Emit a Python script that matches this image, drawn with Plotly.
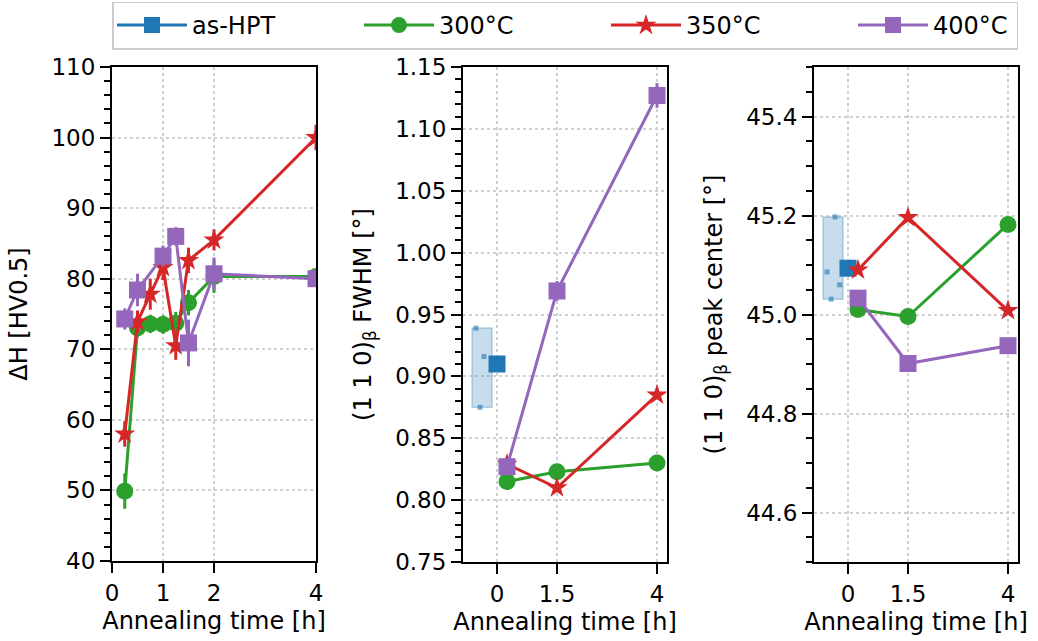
import numpy as np
import plotly.graph_objects as go

# ---- hardness increase ΔH vs annealing time ----
t_hv = [0.25, 0.5, 0.75, 1.0, 1.25, 1.5, 2.0, 4.0]
dh_300 = [49.9, 73.0, 73.6, 73.5, 73.7, 76.6, 80.3, 80.3]
dh_300_err = [2.5, 1.3, 1.3, 1.3, 1.6, 1.8, 2.3, 1.0]
dh_350 = [58.0, 73.9, 77.8, 81.6, 70.5, 82.6, 85.5, 100.0]
dh_350_err = [1.8, 1.6, 2.2, 1.8, 2.0, 1.8, 1.5, 1.8]
t_hv_400 = [0.25, 0.5, 1.0, 1.25, 1.5, 2.0, 4.0]
dh_400 = [74.3, 78.4, 83.2, 86.0, 70.9, 80.7, 80.0]
dh_400_err = [1.5, 2.3, 1.5, 1.3, 3.3, 2.3, 1.0]

# ---- XRD (1 1 0) beta reflection ----
t_xrd = [0.25, 1.5, 4.0]
fwhm_300 = [0.815, 0.823, 0.830]
fwhm_350 = [0.829, 0.810, 0.885]
fwhm_400 = [0.827, 0.969, 1.127]
fwhm_400_err = [0.004, 0.008, 0.010]
fwhm_hpt = [0.939, 0.916, 0.875]

center_300 = [45.010, 44.996, 45.182]
center_350 = [45.090, 45.196, 45.008]
center_400 = [45.033, 44.901, 44.937]
center_hpt = [45.197, 45.086, 45.060, 45.031]

# ---- styling / placement ----
C_HPT, C_300, C_350, C_400 = "#1f77b4", "#2ca02c", "#d62728", "#9467bd"
FONT = "DejaVu Sans"
W, H = 1038, 641
HPT_BOX_CENTER, HPT_BOX_WIDTH = -0.375, 0.5
jitter_fwhm = [-0.15, 0.05, -0.05]
jitter_center = [0.055, -0.15, 0.165, -0.045]

fig = go.Figure()

def px_dom(a, b, total):
    return [a / total, b / total]

def ydom(top, bottom):
    return [1 - bottom / H, 1 - top / H]

def line_trace(x, y, color, symbol, name, xa, ya, err=None, show=False, size=17,
               legendwidth=None):
    return go.Scatter(
        x=x, y=y, mode="lines+markers", name=name, showlegend=show,
        legendgroup=name, xaxis=xa, yaxis=ya, legendwidth=legendwidth,
        line=dict(color=color, width=3),
        marker=dict(color=color, symbol=symbol, size=size, line=dict(width=0)),
        error_y=(dict(type="data", array=err, color=color, thickness=3, width=0)
                 if err is not None else None),
    )

# panel 1: hardness
fig.add_trace(line_trace(t_hv, dh_300, C_300, "circle", "300°C", "x", "y", dh_300_err))
fig.add_trace(line_trace(t_hv, dh_350, C_350, "star", "350°C", "x", "y", dh_350_err, size=16))
fig.add_trace(line_trace(t_hv_400, dh_400, C_400, "square", "400°C", "x", "y", dh_400_err))

# as-HPT reference distributions + mean
def hpt_traces(samples, jitter, xa, ya, show):
    lo, hi = min(samples), max(samples)
    x0 = HPT_BOX_CENTER - HPT_BOX_WIDTH / 2
    x1 = HPT_BOX_CENTER + HPT_BOX_WIDTH / 2
    box = go.Scatter(
        x=[x0, x1, x1, x0, x0], y=[lo, lo, hi, hi, lo], mode="lines",
        fill="toself", fillcolor="rgba(31,119,180,0.25)",
        line=dict(color="rgba(31,119,180,0.3)", width=1.5),
        showlegend=False, hoverinfo="skip", xaxis=xa, yaxis=ya,
    )
    pts = go.Scatter(
        x=[HPT_BOX_CENTER + j for j in jitter], y=samples, mode="markers",
        marker=dict(color=C_HPT, symbol="square", size=5, opacity=0.6, line=dict(width=0)),
        showlegend=False, xaxis=xa, yaxis=ya,
    )
    mean = line_trace([0.0], [float(np.mean(samples))], C_HPT, "square", "as-HPT",
                      xa, ya, show=show, legendwidth=162)
    return [box, pts, mean]

for tr in hpt_traces(fwhm_hpt, jitter_fwhm, "x2", "y2", True):
    fig.add_trace(tr)
fig.add_trace(line_trace(t_xrd, fwhm_300, C_300, "circle", "300°C", "x2", "y2",
                         show=True, legendwidth=162))
fig.add_trace(line_trace(t_xrd, fwhm_350, C_350, "star", "350°C", "x2", "y2",
                         show=True, size=16, legendwidth=162))
fig.add_trace(line_trace(t_xrd, fwhm_400, C_400, "square", "400°C", "x2", "y2",
                         fwhm_400_err, show=True, legendwidth=78))

for tr in hpt_traces(center_hpt, jitter_center, "x3", "y3", False):
    fig.add_trace(tr)
fig.add_trace(line_trace(t_xrd, center_300, C_300, "circle", "300°C", "x3", "y3"))
fig.add_trace(line_trace(t_xrd, center_350, C_350, "star", "350°C", "x3", "y3", size=16))
fig.add_trace(line_trace(t_xrd, center_400, C_400, "square", "400°C", "x3", "y3"))

tick_font = dict(family=FONT, size=23, color="black")
title_font = dict(family=FONT, size=24, color="black")

def xaxis(dom, rng, tickvals, ticktext, anchor):
    return dict(
        domain=dom, range=rng, anchor=anchor, tickmode="array", automargin=False,
        tickvals=tickvals, ticktext=ticktext, ticks="outside", ticklen=10,
        tickwidth=2, tickcolor="black", showline=True, linewidth=2,
        linecolor="black", mirror=True, showgrid=True, gridcolor="#cfcfcf",
        gridwidth=1.5, griddash="dot", zeroline=False, tickfont=tick_font,
        title=dict(text="Annealing time [h]", font=title_font, standoff=8),
    )

def yaxis(dom, rng, dtick, tick0, minor_dtick, fmt, title, anchor, standoff):
    return dict(
        domain=dom, range=rng, anchor=anchor, dtick=dtick, tick0=tick0,
        automargin=False,
        tickformat=fmt, ticks="outside", ticklen=10, tickwidth=2,
        tickcolor="black", showline=True, linewidth=2, linecolor="black",
        mirror=True, showgrid=True, gridcolor="#cfcfcf", gridwidth=1.5,
        griddash="dot", zeroline=False, tickfont=tick_font,
        minor=dict(dtick=minor_dtick, tick0=tick0, ticks="outside", ticklen=6,
                   tickwidth=1.5, tickcolor="black", showgrid=False),
        title=dict(text=title, font=title_font, standoff=standoff),
    )

fig.update_layout(
    width=W, height=H,
    margin=dict(l=0, r=0, t=0, b=0, autoexpand=False),
    paper_bgcolor="white", plot_bgcolor="white",
    font=dict(family=FONT, size=23, color="black"),
    xaxis=xaxis(px_dom(112, 316, W), [0, 4], [0, 1, 2, 4], ["0", "1", "2", "4"], "y"),
    yaxis=yaxis(ydom(67, 561), [40, 110], 10, 40, 2, "d", "ΔH [HV0.5]", "x", 17),
    xaxis2=xaxis(px_dom(463, 667, W), [-0.85, 4.25], [0, 1.5, 4], ["0", "1.5", "4"], "y2"),
    yaxis2=yaxis(ydom(67, 562), [0.75, 1.15], 0.05, 0.75, 0.01, ".2f",
                 "(1 1 0)<sub>β</sub> FWHM [°]", "x2", 17),
    xaxis3=xaxis(px_dom(814, 1018, W), [-0.85, 4.25], [0, 1.5, 4], ["0", "1.5", "4"], "y3"),
    yaxis3=yaxis(ydom(67, 562), [44.5, 45.5], 0.2, 44.6, 0.05, ".1f",
                 "(1 1 0)<sub>β</sub> peak center [°]", "x3", 17),
    legend=dict(
        orientation="h", x=112 / W, y=1 - 25.5 / H, xanchor="left", yanchor="middle",
        bgcolor="white", bordercolor="#cccccc", borderwidth=1.5,
        font=dict(family=FONT, size=24, color="black"),
        itemwidth=70, tracegroupgap=0,
    ),
    showlegend=True,
)

fig.write_html("out.html")
